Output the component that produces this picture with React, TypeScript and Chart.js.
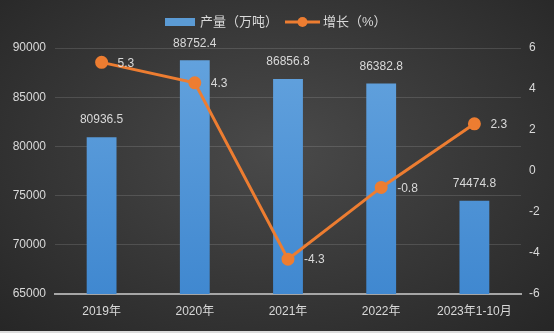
import React, { useEffect, useRef } from "react";
import { Chart, registerables } from "chart.js";

Chart.register(...registerables);

const categories = ["2019年", "2020年", "2021年", "2022年", "2023年1-10月"];
const production = [80936.5, 88752.4, 86856.8, 86382.8, 74474.8];
const growth = [5.3, 4.3, -4.3, -0.8, 2.3];
const barLabel = "产量（万吨）";
const lineLabel = "增长（%）";

const FONT = "'Liberation Sans', 'Noto Sans CJK SC', sans-serif";
const TEXT = "#d9d9d9";
const ORANGE = "#ed7d31";

const customPlugin = {
  id: "custom",
  afterDatasetsDraw(chart: any) {
    const ctx = chart.ctx;
    ctx.save();
    ctx.font = `12px ${FONT}`;
    ctx.fillStyle = TEXT;
    const barMeta = chart.getDatasetMeta(0);
    barMeta.data.forEach((el: any, i: number) => {
      ctx.textAlign = "center";
      ctx.textBaseline = "middle";
      ctx.fillText(String(production[i]), el.x, el.y - 17);
    });
    const lineMeta = chart.getDatasetMeta(1);
    lineMeta.data.forEach((el: any, i: number) => {
      ctx.textAlign = "left";
      ctx.textBaseline = "middle";
      ctx.fillText(String(growth[i]), el.x + 16, el.y + 1);
    });
    ctx.font = `13px ${FONT}`;
    ctx.textBaseline = "middle";
    ctx.textAlign = "left";
    const ly = 22;
    ctx.fillStyle = "#5b9bd5";
    ctx.fillRect(165, ly - 4, 30, 8);
    ctx.fillStyle = TEXT;
    ctx.fillText(barLabel, 200, ly);
    ctx.strokeStyle = ORANGE;
    ctx.lineWidth = 3;
    ctx.beginPath();
    ctx.moveTo(285, ly);
    ctx.lineTo(320, ly);
    ctx.stroke();
    ctx.fillStyle = ORANGE;
    ctx.beginPath();
    ctx.arc(302.5, ly, 5, 0, Math.PI * 2);
    ctx.fill();
    ctx.fillStyle = TEXT;
    ctx.fillText(lineLabel, 323, ly);
    ctx.restore();
  },
};

export default function App() {
  const ref = useRef<HTMLCanvasElement>(null);
  useEffect(() => {
    document.body.style.margin = "0";
    const canvas = ref.current!;
    const ctx = canvas.getContext("2d")!;
    const grad = ctx.createLinearGradient(0, 48, 0, 294);
    grad.addColorStop(0, "#64a3de");
    grad.addColorStop(1, "#4088d0");
    const chart = new Chart(canvas, {
      type: "bar",
      data: {
        labels: categories,
        datasets: [
          {
            type: "bar",
            label: barLabel,
            data: production,
            backgroundColor: grad,
            yAxisID: "y",
            categoryPercentage: 1,
            barPercentage: 0.32,
            order: 2,
          },
          {
            type: "line",
            label: lineLabel,
            data: growth,
            borderColor: ORANGE,
            backgroundColor: ORANGE,
            borderWidth: 3,
            pointRadius: 5,
            pointBackgroundColor: ORANGE,
            pointBorderColor: ORANGE,
            yAxisID: "y1",
            order: 1,
          } as any,
        ],
      },
      options: {
        animation: false,
        responsive: false,
        layout: { padding: { top: 48, left: 0, right: 0, bottom: 0 } },
        plugins: {
          legend: { display: false },
          tooltip: { enabled: false },
        },
        scales: {
          x: {
            grid: { display: false, drawTicks: false },
            border: { display: true, color: "#a6a6a6", width: 2 },
            ticks: { color: TEXT, font: { family: FONT, size: 12 }, padding: 10, maxRotation: 0 },
            afterFit(s: any) { s.height = 39; },
          },
          y: {
            position: "left",
            min: 65000,
            max: 90000,
            ticks: {
              stepSize: 5000,
              color: TEXT,
              font: { family: FONT, size: 12 },
              padding: 9,
              callback: (v: any) => String(v),
            },
            grid: { color: "rgba(255,255,255,0.13)", drawTicks: false, lineWidth: 1 },
            border: { display: false },
            afterFit(s: any) { s.width = 55; },
          },
          y1: {
            position: "right",
            min: -6,
            max: 6,
            ticks: { stepSize: 2, color: TEXT, font: { family: FONT, size: 12 }, padding: 8 },
            grid: { display: false, drawTicks: false },
            border: { display: false },
            afterFit(s: any) { s.width = 33; },
          },
        },
      },
      plugins: [customPlugin],
    });
    return () => chart.destroy();
  }, []);
  return (
    <div
      style={{
        width: 554,
        height: 333,
        position: "relative",
        background: "radial-gradient(ellipse at 50% 45%, #4a4a4a 0%, #383838 50%, #262626 100%)",
      }}
    >
      <canvas ref={ref} width={554} height={333} style={{ display: "block" }} />
      <div
        style={{
          position: "absolute",
          left: 0,
          right: 0,
          bottom: 0,
          height: 2,
          background: "#dcdcdc",
        }}
      />
    </div>
  );
}
